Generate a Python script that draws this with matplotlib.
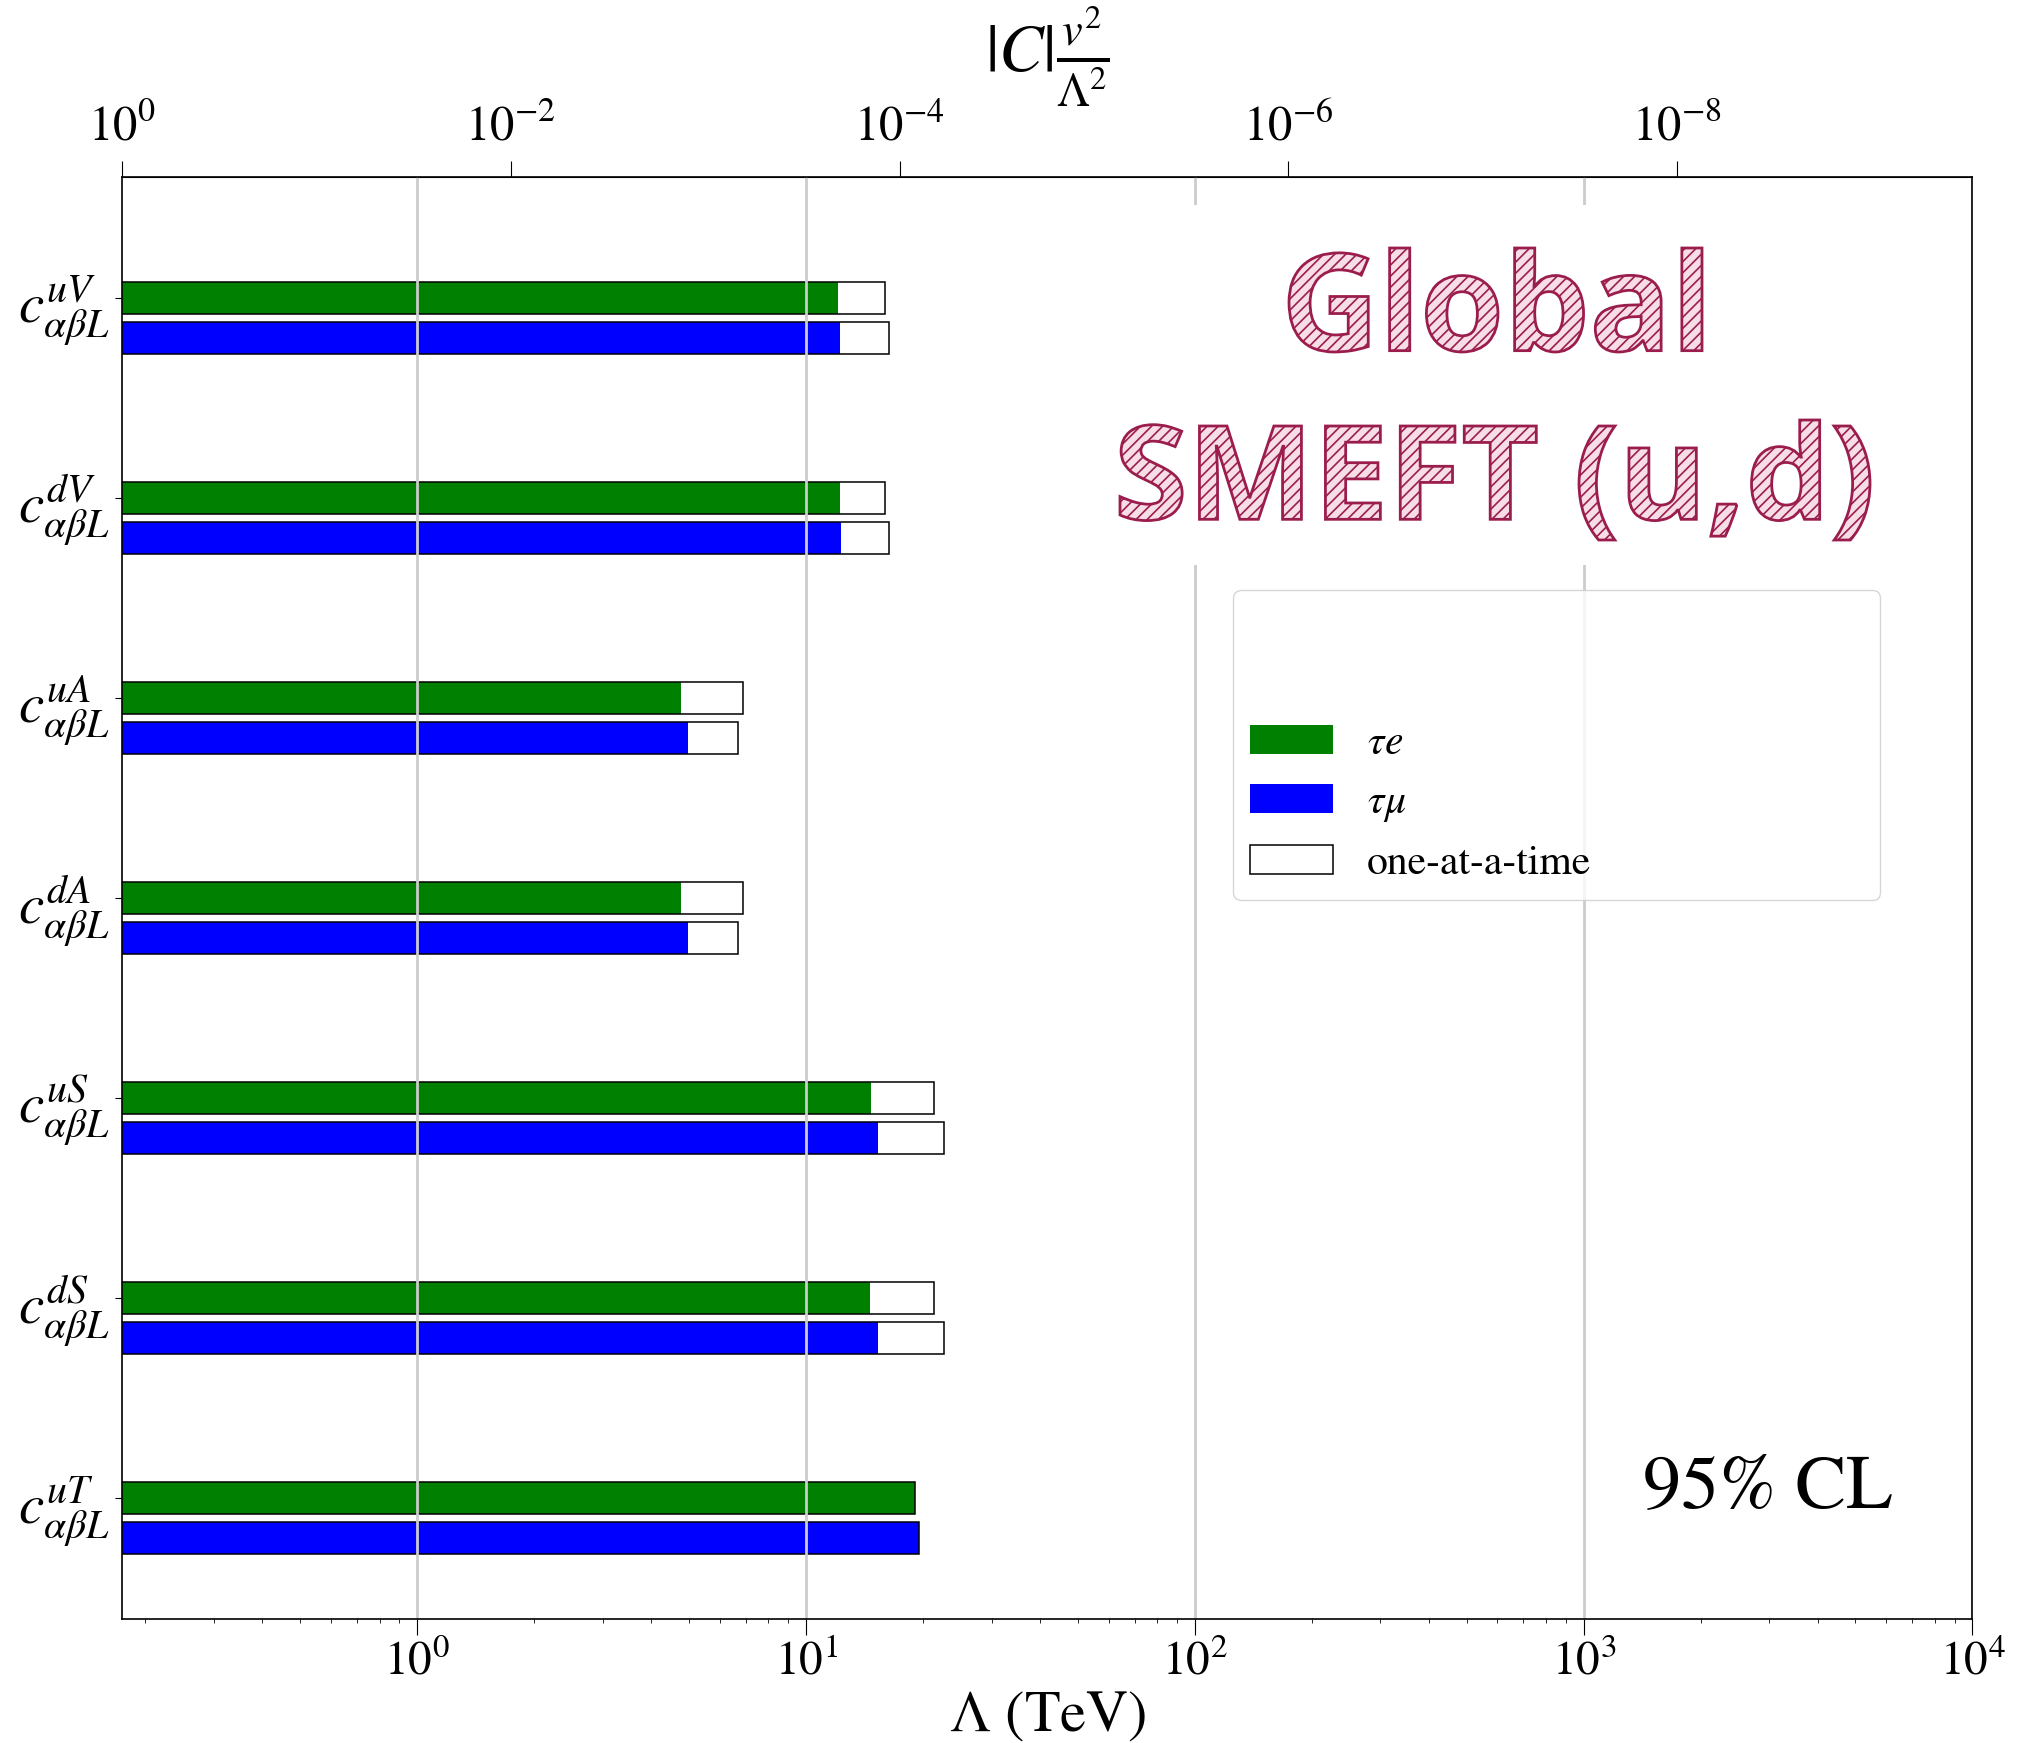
import numpy as np
import matplotlib.pyplot as plt
import matplotlib.ticker as ticker
from matplotlib.patches import Patch, PathPatch, Rectangle
from matplotlib.textpath import TextPath
from matplotlib.font_manager import FontProperties
from matplotlib.transforms import Affine2D

plt.rcParams['font.family'] = 'STIXGeneral'
plt.rcParams['mathtext.fontset'] = 'stix'
plt.rcParams['hatch.linewidth'] = 1.2

# operators and bounds on Lambda (TeV), 95% CL
operators = ['uV', 'dV', 'uA', 'dA', 'uS', 'dS', 'uT']
lam_te = [12.1, 12.2, 4.78, 4.78, 14.7, 14.6, 19.05]
lam_tm = [12.25, 12.3, 4.98, 4.98, 15.3, 15.3, 19.5]
lam_te_oat = [15.95, 15.95, 6.90, 6.90, 21.3, 21.3, 19.05]
lam_tm_oat = [16.3, 16.3, 6.67, 6.67, 22.7, 22.7, 19.5]
vev = 0.174  # v/sqrt(2) in TeV

top_ticks = [1, 1e-2, 1e-4, 1e-6, 1e-8]
title_lines = ['Global', 'SMEFT (u,d)']
sketch_col = '#9b1d4d'


def sketch_text(fig, s, box):
    # box = (x0, y0, x1, y1) in pixels, measured from the top-left corner
    x0, y0, x1, y1 = box
    tp = TextPath((0, 0), s, size=100,
                  prop=FontProperties(family='Open Sans', weight='bold'))
    ext = tp.get_extents()
    H = fig.get_figheight() * fig.dpi
    tr = (Affine2D().translate(-ext.x0, -ext.y0)
          .scale((x1 - x0) / ext.width, (y1 - y0) / ext.height)
          .translate(x0, H - y1).scale(1 / fig.dpi))
    p = PathPatch(tr.transform_path(tp), transform=fig.dpi_scale_trans,
                  facecolor='#f6dde6', edgecolor=sketch_col, hatch='///',
                  lw=2.0, zorder=6)
    fig.add_artist(p)


fig, ax = plt.subplots(figsize=(20.22, 17.43), dpi=100)
fig.subplots_adjust(left=0.0603, right=0.9755, bottom=0.0711, top=0.8985)

y = np.arange(len(operators))
h = 0.16
ax.barh(y, lam_te, height=h, color='green', zorder=1)
ax.barh(y + 0.2, lam_tm, height=h, color='blue', zorder=1)
ax.barh(y, lam_te_oat, height=h, fill=False, edgecolor='black', lw=1.1, zorder=1.1)
ax.barh(y + 0.2, lam_tm_oat, height=h, fill=False, edgecolor='black', lw=1.1, zorder=1.1)

ax.set_xscale('log')
ax.set_xlim(vev, 1e4)
ax.set_ylim(6.605, -0.605)
ax.set_yticks(y)
ax.set_yticklabels([r'$c^{%s}_{\alpha\beta L}$' % o for o in operators])
ax.grid(axis='x', which='major', color='#cccccc', lw=2)

ax.tick_params(axis='x', which='major', length=11.5, width=0.8, labelsize=34)
ax.tick_params(axis='x', which='minor', length=3, width=0.6)
ax.tick_params(axis='y', length=5, width=0.8, labelsize=41)
for sp in ax.spines.values():
    sp.set_linewidth(1.2)
ax.set_xlabel(r'$\Lambda$ (TeV)', fontsize=42, labelpad=4)

ax2 = ax.secondary_xaxis('top', functions=(lambda L: (vev / L) ** 2,
                                           lambda C: vev / np.sqrt(C)))
ax2.set_xticks(top_ticks)
ax2.xaxis.set_minor_locator(ticker.NullLocator())
ax2.tick_params(which='major', length=11.5, width=0.8, labelsize=35, pad=7)
ax2.set_xlabel(r'$|C|\frac{v^2}{\Lambda^2}$', fontsize=48, labelpad=24)

handles = [Patch(facecolor='green', label=r'$\tau e$'),
           Patch(facecolor='blue', label=r'$\tau\mu$'),
           Patch(facecolor='white', edgecolor='black', lw=1.1, label='one-at-a-time')]
ax.legend(handles=handles, loc='upper left', mode='expand',
          bbox_to_anchor=(0.6005, 0.5014, 0.3497, 0.2122), borderaxespad=0,
          fontsize=30, title=' \n ', title_fontsize=36)

ax.text(0.957, 0.09, '95% CL', transform=ax.transAxes, ha='right',
        va='center', fontsize=55)

# white backing behind the title stamp
H = fig.get_figheight() * fig.dpi
ax.add_patch(Rectangle((1100 / 100, (H - 565) / 100), 8.0, 3.6,
                       transform=fig.dpi_scale_trans, facecolor='white',
                       edgecolor='none', zorder=2))
sketch_text(fig, title_lines[0], (1289, 248, 1702, 352))
sketch_text(fig, title_lines[1], (1120, 420, 1870, 540))

fig.savefig('out.png', dpi=100)
